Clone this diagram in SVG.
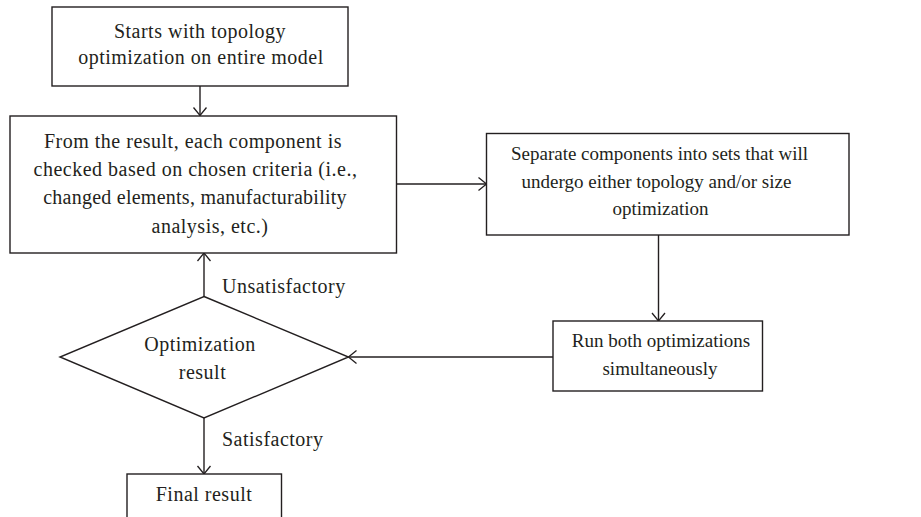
<svg xmlns="http://www.w3.org/2000/svg" width="921" height="517" viewBox="0 0 921 517">
<style>
.box{fill:#fff;stroke:#231f20;stroke-width:1.4}
.lbl{font-family:"Liberation Serif","Times New Roman",serif;font-size:20px;letter-spacing:0.5px;fill:#231f20}
.sm{font-size:19px;letter-spacing:0}
.c{text-anchor:middle}
.edge{fill:none;stroke:#231f20;stroke-width:1.4}
</style>
<defs>
<marker id="ah" viewBox="-10 -8 12 16" markerWidth="12" markerHeight="16" refX="0" refY="0" orient="auto" markerUnits="userSpaceOnUse">
<path d="M-8,-6.5 L0,0 L-8,6.5" fill="none" stroke="#231f20" stroke-width="1.3"/>
</marker>
</defs>
<rect width="921" height="517" fill="#fff"/>
<g id="connectors">
<line class="edge" x1="200" y1="86" x2="200" y2="115.5" marker-end="url(#ah)"/>
<line class="edge" x1="396.5" y1="184" x2="486.5" y2="184" marker-end="url(#ah)"/>
<line class="edge" x1="658.5" y1="235" x2="658.5" y2="321" marker-end="url(#ah)"/>
<line class="edge" x1="553" y1="357" x2="348.5" y2="357" marker-end="url(#ah)"/>
<line class="edge" x1="204" y1="296.5" x2="204" y2="253" marker-end="url(#ah)"/>
<line class="edge" x1="204" y1="418" x2="204" y2="474" marker-end="url(#ah)"/>
<text class="lbl" x="222" y="293">Unsatisfactory</text>
<text class="lbl" x="222" y="446">Satisfactory</text>
</g>
<g id="start">
<rect class="box" x="52" y="7" width="296" height="79"/>
<text class="lbl c" x="200" y="38">Starts with topology</text>
<text class="lbl c" x="201" y="64">optimization on entire model</text>
</g>
<g id="check">
<rect class="box" x="10" y="116" width="386.5" height="137"/>
<text class="lbl c" x="193" y="147.5">From the result, each component is</text>
<text class="lbl c" x="195.5" y="175.5">checked based on chosen criteria (i.e.,</text>
<text class="lbl c" x="195" y="204" style="letter-spacing:0.25px">changed elements, manufacturability</text>
<text class="lbl c" x="210" y="232.5">analysis, etc.)</text>
</g>
<g id="separate">
<rect class="box" x="486.5" y="133.5" width="362.5" height="101.5"/>
<text class="lbl sm c" x="659.5" y="160">Separate components into sets that will</text>
<text class="lbl sm c" x="656.5" y="188">undergo either topology and/or size</text>
<text class="lbl sm c" x="660.5" y="215">optimization</text>
</g>
<g id="run">
<rect class="box" x="553" y="321" width="209.5" height="70"/>
<text class="lbl sm c" x="661" y="347">Run both optimizations</text>
<text class="lbl sm c" x="660" y="375">simultaneously</text>
</g>
<g id="decision">
<polygon class="box" points="204,296.5 348.5,357 204,418 60,357"/>
<text class="lbl c" x="200" y="351">Optimization</text>
<text class="lbl c" x="202.5" y="379">result</text>
</g>
<g id="final">
<rect class="box" x="127" y="474" width="154.5" height="60"/>
<text class="lbl c" x="204" y="501">Final result</text>
</g>
</svg>
